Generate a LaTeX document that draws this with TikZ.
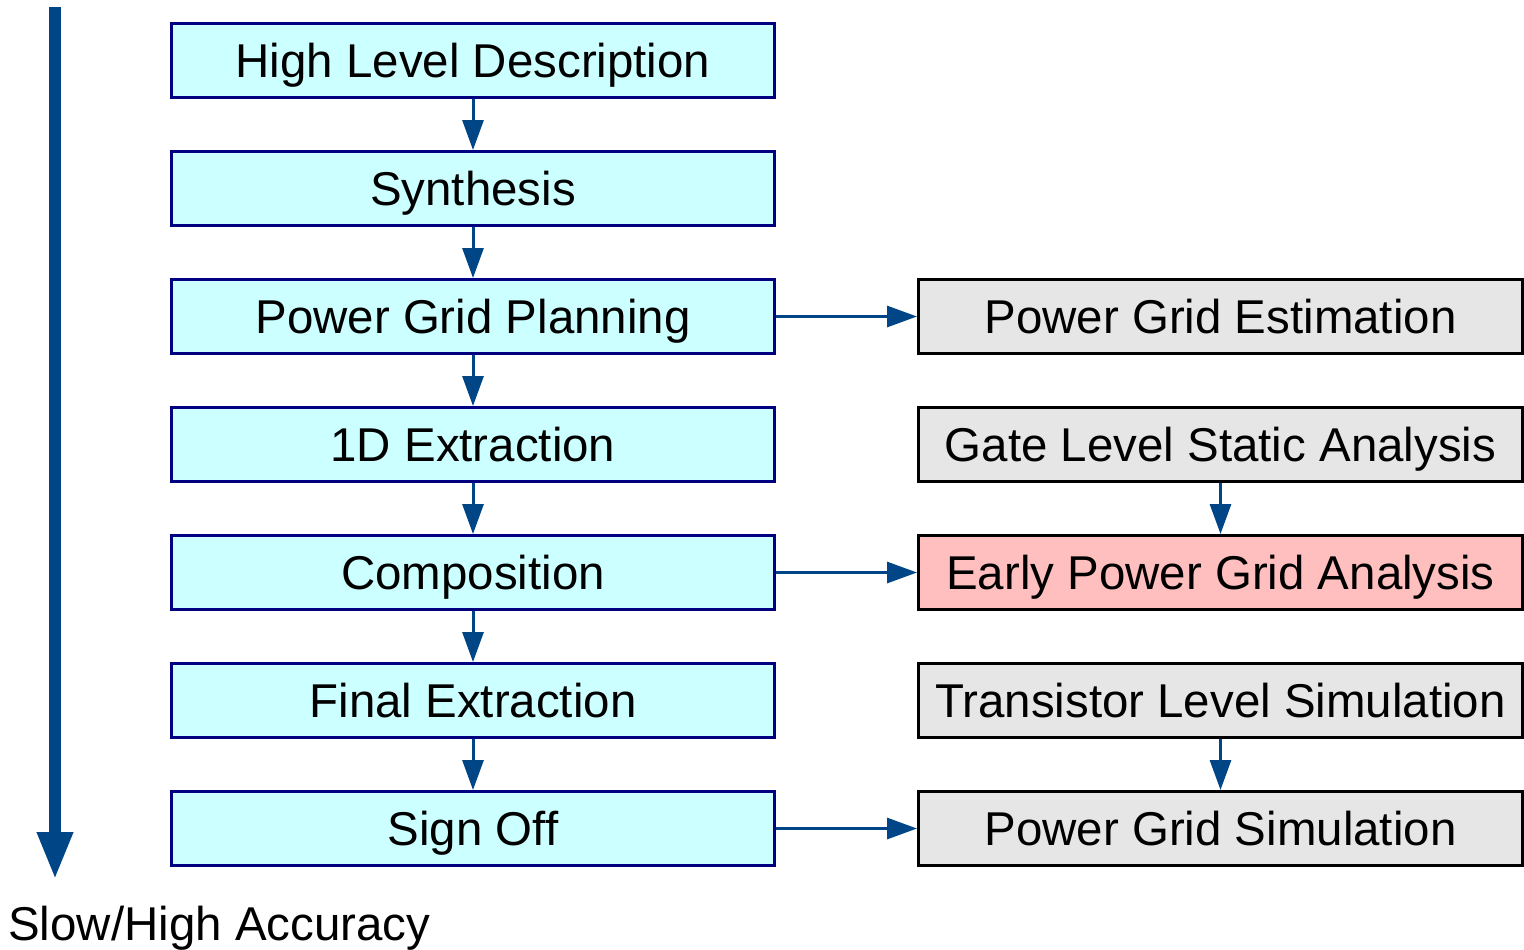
\documentclass[tikz,border=0pt]{standalone}
\usepackage{fontspec}
\setmainfont{Liberation Sans}
\usepackage{xcolor}
\usepackage{tikz}
\usetikzlibrary{arrows.meta,positioning}
\definecolor{flowblue}{HTML}{004586}
\definecolor{stepfill}{HTML}{CCFFFF}
\definecolor{stepline}{HTML}{000080}
\definecolor{toolfill}{HTML}{E6E6E6}
\definecolor{keyfill}{HTML}{FFBFBF}

\begin{document}
\begin{tikzpicture}[
    node distance=1.02cm and 2.82cm,
    stepbox/.style={rectangle, draw=stepline, line width=0.06cm, fill=stepfill, inner sep=0pt,
                minimum width=12.06cm, minimum height=1.48cm, text height=0.68cm, text depth=0pt,
                font=\fontsize{27}{32}\selectfont},
    toolbox/.style={rectangle, draw=black, line width=0.06cm, fill=toolfill, inner sep=0pt,
                minimum width=12.08cm, minimum height=1.48cm, text height=0.68cm, text depth=0pt,
                font=\fontsize{27}{32}\selectfont},
    keybox/.style={toolbox, fill=keyfill},
    arr/.style={-{Triangle[length=0.6cm, width=0.42cm]}, flowblue, line width=0.06cm},
    bigarr/.style={-{Triangle[length=0.96cm, width=0.66cm]}, flowblue, line width=0.24cm}]
\useasboundingbox (0,0) rectangle (30.48,-18.98);
% design flow
\node[stepbox] (hld) at (9.46,-1.21) {High Level Description};
\node[stepbox, below=of hld] (syn) {Synthesis};
\node[stepbox, below=of syn] (pgp) {Power Grid Planning};
\node[stepbox, below=of pgp] (ext1) {1D Extraction};
\node[stepbox, below=of ext1] (comp) {Composition};
\node[stepbox, below=of comp] (fext) {Final Extraction};
\node[stepbox, below=of fext] (sign) {Sign Off};
% analysis
\node[toolbox, right=of pgp] (pge) {Power Grid Estimation};
\node[toolbox, right=of ext1] (glsa) {Gate Level Static Analysis};
\node[keybox, right=of comp] (epga) {Early Power Grid Analysis};
\node[toolbox, right=of fext] (tls) {Transistor Level Simulation};
\node[toolbox, right=of sign] (pgs) {Power Grid Simulation};
\draw[arr] (hld)--(syn); \draw[arr] (syn)--(pgp); \draw[arr] (pgp)--(ext1);
\draw[arr] (ext1)--(comp); \draw[arr] (comp)--(fext); \draw[arr] (fext)--(sign);
\draw[arr] (pgp)--(pge); \draw[arr] (comp)--(epga); \draw[arr] (sign)--(pgs);
\draw[arr] (glsa)--(epga); \draw[arr] (tls)--(pgs);
% accuracy axis
\coordinate (fast) at (1.1,-0.14);
\coordinate (slow) at (1.1,-17.6);
\draw[bigarr] (fast)--(slow);
\node[anchor=base west, inner sep=0pt, font=\fontsize{27}{32}\selectfont] (acc) at (0.16,-18.8) {Slow/High Accuracy};
\end{tikzpicture}
\end{document}
